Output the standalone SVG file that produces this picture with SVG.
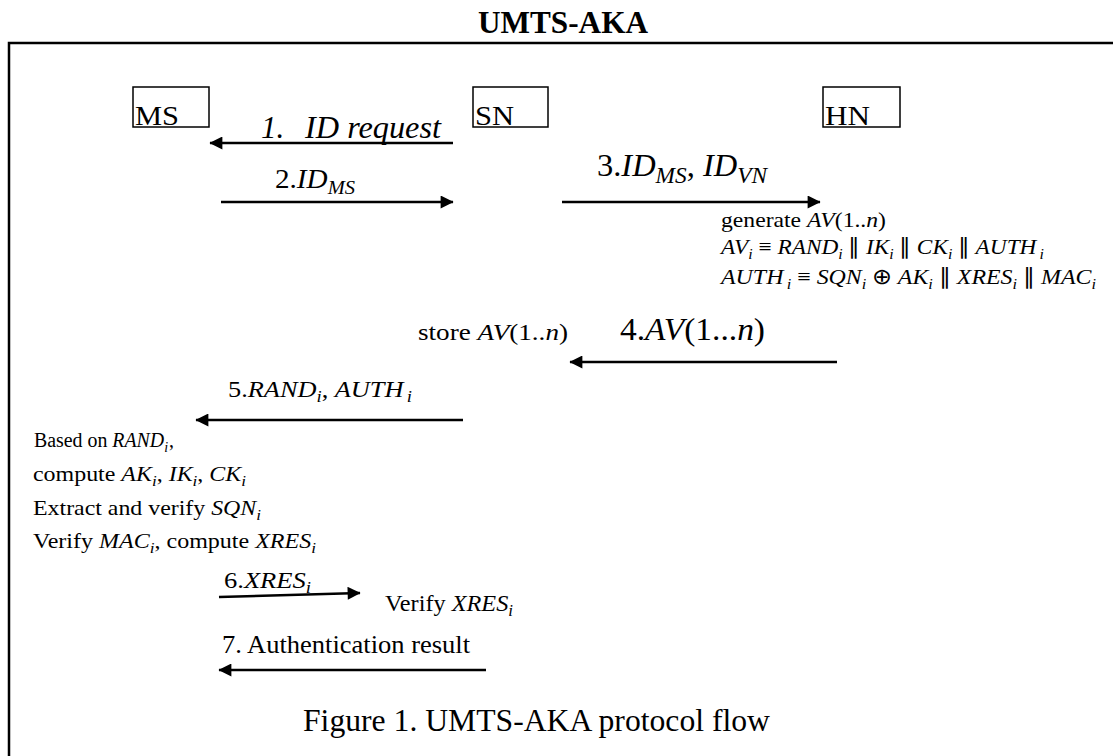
<svg xmlns="http://www.w3.org/2000/svg" width="1113" height="756" viewBox="0 0 1113 756">
<style>
text{font-family:"Liberation Serif","Times New Roman",serif;fill:#000}
.i{font-style:italic}
.b{font-weight:bold}
.box{fill:#fff;stroke:#000;stroke-width:1.5}
.ln{stroke:#000;stroke-width:2.5;fill:none}
</style>
<defs>
<marker id="ah" viewBox="0 0 10 10" refX="9.5" refY="5" markerUnits="userSpaceOnUse" markerWidth="15" markerHeight="13" orient="auto">
<path d="M0,0 L10,5 L0,10 z" fill="#000"/>
</marker>
</defs>
<rect width="1113" height="756" fill="#fff"/>
<text class="b" x="478" y="33" font-size="31" textLength="170" lengthAdjust="spacingAndGlyphs">UMTS-AKA</text>
<path d="M9,758 V43 H1115" class="ln" stroke-width="2.6"/>

<g id="ms"><rect class="box" x="133" y="87" width="76" height="40"/><text x="135" y="125" font-size="28" textLength="44" lengthAdjust="spacingAndGlyphs">MS</text></g>
<g id="sn"><rect class="box" x="473" y="87" width="75" height="40"/><text x="475" y="125" font-size="28" textLength="39" lengthAdjust="spacingAndGlyphs">SN</text></g>
<g id="hn"><rect class="box" x="823" y="87" width="77" height="40"/><text x="825" y="125" font-size="28" textLength="45" lengthAdjust="spacingAndGlyphs">HN</text></g>

<g id="connectors">
<line class="ln" x1="453" y1="143" x2="210" y2="143" marker-end="url(#ah)"/>
<line class="ln" x1="221" y1="202" x2="453" y2="202" marker-end="url(#ah)"/>
<line class="ln" x1="562" y1="202" x2="820" y2="202" marker-end="url(#ah)"/>
<line class="ln" x1="837" y1="362" x2="570" y2="362" marker-end="url(#ah)"/>
<line class="ln" x1="463" y1="420" x2="196" y2="420" marker-end="url(#ah)"/>
<line class="ln" x1="219" y1="597" x2="360" y2="593" marker-end="url(#ah)"/>
<line class="ln" x1="486" y1="670" x2="219" y2="670" marker-end="url(#ah)"/>
</g>

<g id="labels">
<text class="i" x="261" y="138" font-size="31">1.</text>
<text class="i" x="305" y="138" font-size="31" textLength="136" lengthAdjust="spacingAndGlyphs">ID request</text>

<text x="275" y="188" font-size="27" textLength="80" lengthAdjust="spacingAndGlyphs">2.<tspan class="i">ID</tspan><tspan class="i" font-size="19" dy="6">MS</tspan></text>

<text x="597" y="176" font-size="32" textLength="170" lengthAdjust="spacingAndGlyphs">3.<tspan class="i">ID</tspan><tspan class="i" font-size="23" dy="7">MS</tspan><tspan dy="-7">, </tspan><tspan class="i">ID</tspan><tspan class="i" font-size="23" dy="7">VN</tspan></text>

<text x="721" y="227" font-size="22" textLength="165" lengthAdjust="spacingAndGlyphs">generate <tspan class="i">AV</tspan>(1..<tspan class="i">n</tspan>)</text>
<text x="721" y="254" font-size="22" textLength="323" lengthAdjust="spacingAndGlyphs"><tspan class="i">AV</tspan><tspan class="i" font-size="15" dy="5">i</tspan><tspan dy="-5"> ≡ </tspan><tspan class="i">RAND</tspan><tspan class="i" font-size="15" dy="5">i</tspan><tspan dy="-5"> ∥ </tspan><tspan class="i">IK</tspan><tspan class="i" font-size="15" dy="5">i</tspan><tspan dy="-5"> ∥ </tspan><tspan class="i">CK</tspan><tspan class="i" font-size="15" dy="5">i</tspan><tspan dy="-5"> ∥ </tspan><tspan class="i">AUTH</tspan><tspan class="i" font-size="15" dx="3" dy="5">i</tspan></text>
<text x="721" y="284" font-size="22" textLength="375" lengthAdjust="spacingAndGlyphs"><tspan class="i">AUTH</tspan><tspan class="i" font-size="15" dx="3" dy="5">i</tspan><tspan dy="-5"> ≡ </tspan><tspan class="i">SQN</tspan><tspan class="i" font-size="15" dy="5">i</tspan><tspan dy="-5"> ⊕ </tspan><tspan class="i">AK</tspan><tspan class="i" font-size="15" dy="5">i</tspan><tspan dy="-5"> ∥ </tspan><tspan class="i">XRES</tspan><tspan class="i" font-size="15" dy="5">i</tspan><tspan dy="-5"> ∥ </tspan><tspan class="i">MAC</tspan><tspan class="i" font-size="15" dy="5">i</tspan></text>

<text x="418" y="340" font-size="24" textLength="150" lengthAdjust="spacingAndGlyphs">store <tspan class="i">AV</tspan>(1..<tspan class="i">n</tspan>)</text>
<text x="620" y="340" font-size="32" textLength="145" lengthAdjust="spacingAndGlyphs">4.<tspan class="i">AV</tspan>(1...<tspan class="i">n</tspan>)</text>

<text x="228" y="397" font-size="24" textLength="184" lengthAdjust="spacingAndGlyphs">5.<tspan class="i">RAND</tspan><tspan class="i" font-size="17" dy="5">i</tspan><tspan dy="-5">, </tspan><tspan class="i">AUTH</tspan><tspan class="i" font-size="17" dx="3" dy="5">i</tspan></text>

<text x="34" y="447" font-size="20" textLength="140" lengthAdjust="spacingAndGlyphs">Based on <tspan class="i">RAND</tspan><tspan class="i" font-size="14" dy="5">i</tspan><tspan dx="1" dy="-5">,</tspan></text>
<text x="33" y="481" font-size="21" textLength="213" lengthAdjust="spacingAndGlyphs">compute <tspan class="i">AK</tspan><tspan class="i" font-size="15" dy="5">i</tspan><tspan dy="-5">, </tspan><tspan class="i">IK</tspan><tspan class="i" font-size="15" dy="5">i</tspan><tspan dy="-5">, </tspan><tspan class="i">CK</tspan><tspan class="i" font-size="15" dy="5">i</tspan></text>
<text x="33" y="515" font-size="21" textLength="228" lengthAdjust="spacingAndGlyphs">Extract and verify <tspan class="i">SQN</tspan><tspan class="i" font-size="15" dy="5">i</tspan></text>
<text x="33" y="548" font-size="21" textLength="283" lengthAdjust="spacingAndGlyphs">Verify <tspan class="i">MAC</tspan><tspan class="i" font-size="15" dy="5">i</tspan><tspan dy="-5">, compute </tspan><tspan class="i">XRES</tspan><tspan class="i" font-size="15" dy="5">i</tspan></text>

<text x="224" y="588" font-size="24" textLength="87" lengthAdjust="spacingAndGlyphs">6.<tspan class="i">XRES</tspan><tspan class="i" font-size="17" dy="5">i</tspan></text>
<text x="385" y="611" font-size="23" textLength="128" lengthAdjust="spacingAndGlyphs">Verify <tspan class="i">XRES</tspan><tspan class="i" font-size="16" dy="5">i</tspan></text>
<text x="222" y="653" font-size="25" textLength="248" lengthAdjust="spacingAndGlyphs">7. Authentication result</text>

<text x="303" y="731" font-size="31" textLength="467" lengthAdjust="spacingAndGlyphs">Figure 1. UMTS-AKA protocol flow</text>
</g>
</svg>
